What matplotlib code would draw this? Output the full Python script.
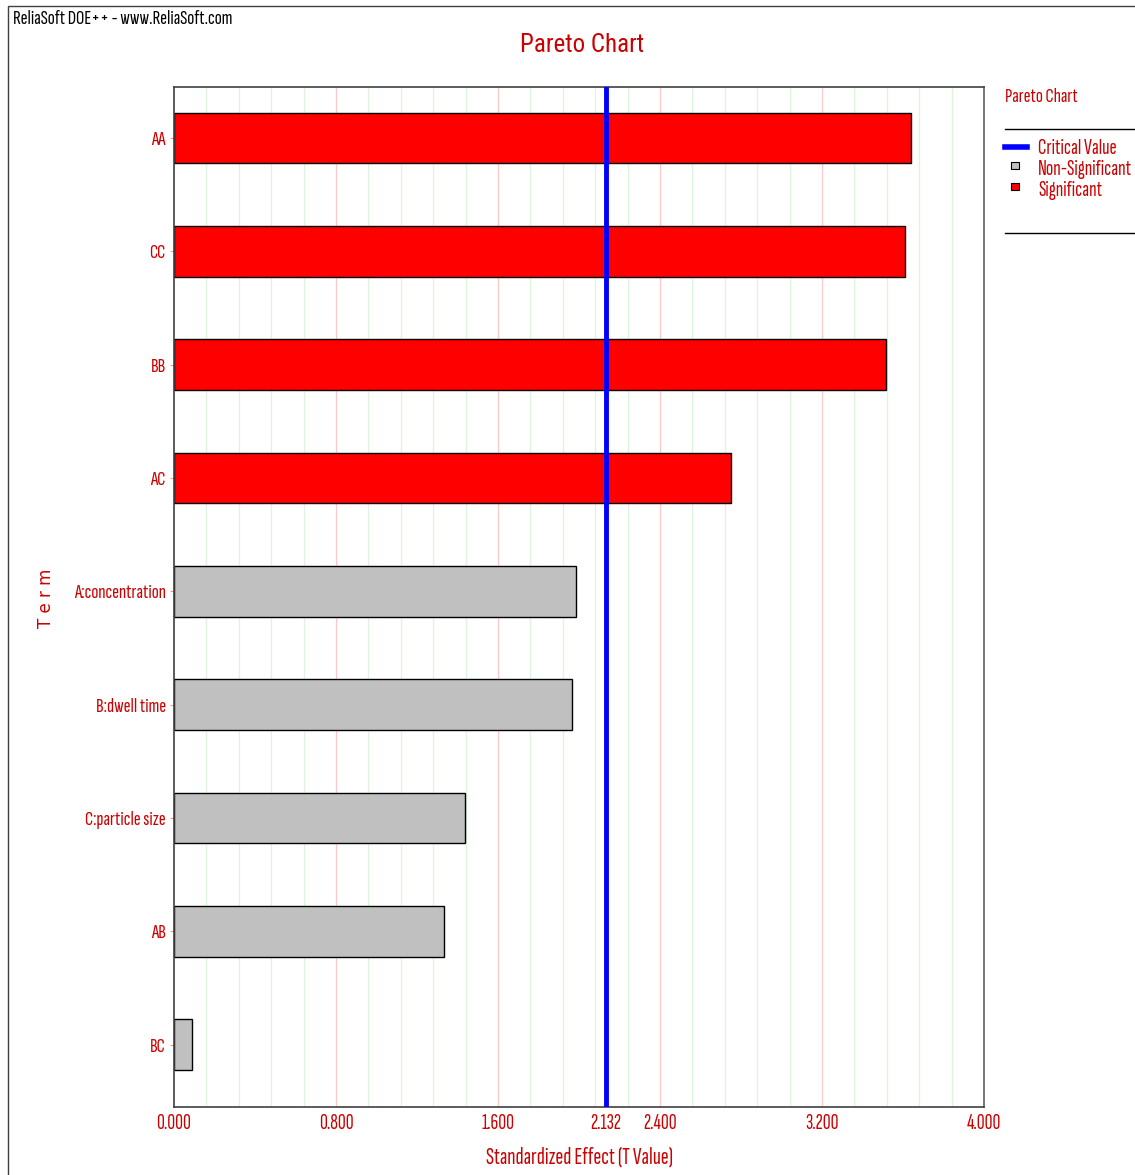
import matplotlib
matplotlib.use("Agg")
import matplotlib.pyplot as plt
from matplotlib.lines import Line2D
from matplotlib.patches import Rectangle
import numpy as np

plt.rcParams['font.family'] = ['Sofia Sans Extra Condensed', 'DejaVu Sans']

terms = ['AA', 'CC', 'BB', 'AC', 'A:concentration', 'B:dwell time',
         'C:particle size', 'AB', 'BC']
t_values = [3.639, 3.610, 3.516, 2.751, 1.985, 1.965, 1.437, 1.333, 0.089]
critical = 2.132
x_ticks = [0.0, 0.8, 1.6, critical, 2.4, 3.2, 4.0]

txt = '#cc0000'
sig_col = '#ff0000'
nonsig_col = '#c0c0c0'

fig = plt.figure(figsize=(11.35, 11.75), dpi=100)
W, H = 1135, 1175
ax = fig.add_axes([174 / W, 1 - 1107 / H, 810 / W, 1020 / H])

# light grid: minor lines green, every 0.8 red
for g in np.arange(0.16, 4.0, 0.16):
    major = abs(g / 0.8 - round(g / 0.8)) < 1e-6
    ax.axvline(g, color='#ffc8c8' if major else '#dcf5dc', lw=0.9, zorder=0)

ypos = np.arange(len(terms))
colors = [sig_col if v > critical else nonsig_col for v in t_values]
ax.barh(ypos, t_values, height=0.445, color=colors, edgecolor='black',
        linewidth=1.0, zorder=2)
ax.axvline(critical, color='#0000ff', lw=3.5, zorder=3)

ax.set_xlim(0, 4.0)
ax.set_ylim(8.55, -0.45)
ax.set_yticks(ypos)
ax.set_yticklabels(terms, color=txt, fontsize=15)
ax.set_xticks(x_ticks)
ax.set_xticklabels(['%.3f' % v for v in x_ticks], color=txt, fontsize=15.5)
ax.tick_params(axis='y', length=3, color='#ff9090', pad=3)
ax.tick_params(axis='x', length=0, pad=5)
for s in ax.spines.values():
    s.set_color('#404040')
    s.set_linewidth(1.2)
ax.spines['right'].set_color('#606060')

ax.set_xlabel('Standardized Effect (T Value)', color=txt, fontsize=17, labelpad=10)
fig.text(46 / W, 1 - 598 / H, 'T e r m', color=txt, fontsize=12,
         rotation=90, ha='center', va='center', family='DejaVu Sans')

fig.text(582 / W, 1 - 45 / H, 'Pareto Chart', color=txt, fontsize=18,
         ha='center', va='center', family='Roboto Condensed')
fig.text(13 / W, 1 - 19 / H, 'ReliaSoft DOE++ - www.ReliaSoft.com',
         color='black', fontsize=15, ha='left', va='center')

# outer frame
fig.patches.append(Rectangle((8 / W, -0.1), 1.2, 1 - 6 / H + 0.1,
                             transform=fig.transFigure, fill=False,
                             edgecolor='#404040', lw=1.0))

# legend box on the right
fig.text(1005 / W, 1 - 97 / H, 'Pareto Chart', color=txt, fontsize=15,
         ha='left', va='center')
for yy in (129, 233):
    fig.add_artist(Line2D([1005 / W, 1.0], [1 - yy / H] * 2,
                          color='black', lw=1.0, transform=fig.transFigure))
fig.add_artist(Line2D([1005 / W, 1027 / W], [1 - 147 / H] * 2,
                      color='#0000ff', lw=4, transform=fig.transFigure))
for yy, c in ((165, nonsig_col), (186, sig_col)):
    fig.add_artist(Rectangle((1011 / W, 1 - (yy + 4) / H), 8 / W, 7 / H,
                             facecolor=c, edgecolor='black', lw=0.8,
                             transform=fig.transFigure))
for yy, label in ((148, 'Critical Value'), (169, 'Non-Significant'),
                  (190, 'Significant')):
    fig.text(1038 / W, 1 - yy / H, label, color=txt, fontsize=15.5,
             ha='left', va='center')

fig.savefig('out.png', dpi=100)
